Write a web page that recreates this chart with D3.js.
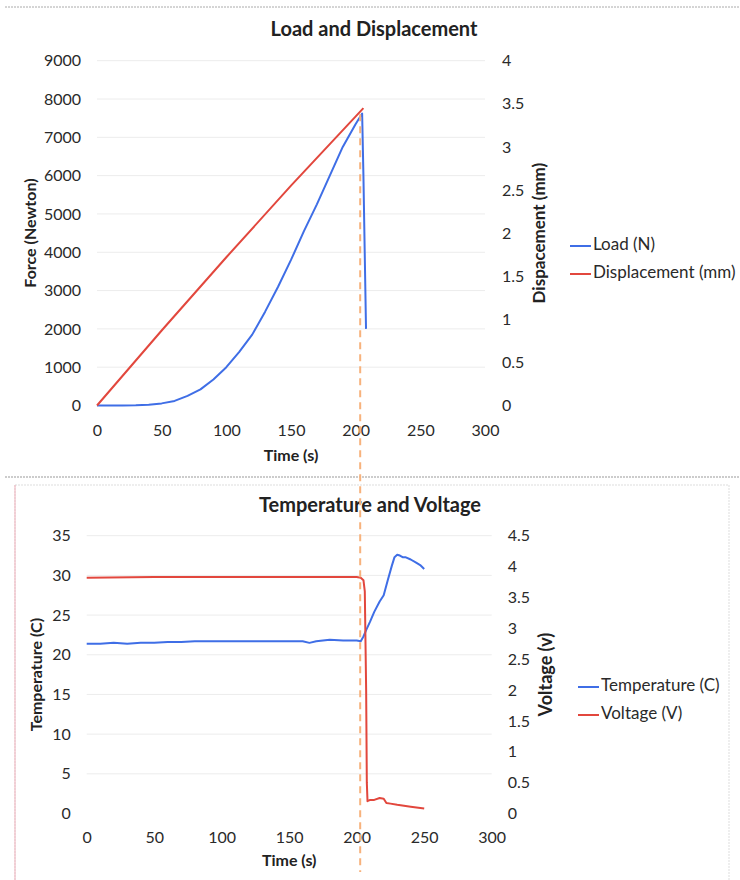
<!DOCTYPE html>
<html><head><meta charset="utf-8">
<script src="https://cdn.jsdelivr.net/npm/d3@7"></script>
<style>
body{margin:0;background:#fff;}
svg{display:block;font-family:Lato,"Open Sans",sans-serif;}
</style></head>
<body><svg id="c" width="740" height="880"></svg>
<script>
// ---- Data: Load and Displacement ----
const loadTime = [0,10,20,30,40,50,60,70,80,90,100,110,120,130,140,150,160,170,180,190,200,205,206,207,208];
const loadN    = [0,0,0,5,20,55,120,250,420,680,1000,1400,1850,2450,3100,3800,4550,5250,6000,6750,7350,7620,6000,4000,2000];
const dispTime = [0,50,100,150,206];
const dispMm   = [0,0.87,1.72,2.55,3.45];
const forceTicks = [0,1000,2000,3000,4000,5000,6000,7000,8000,9000];
const dispTicks  = [0,0.5,1,1.5,2,2.5,3,3.5,4];
const timeTicks  = [0,50,100,150,200,250,300];

// ---- Data: Temperature and Voltage ----
const tvTime = [0,10,20,30,40,50,60,70,80,90,100,110,120,130,140,150,160,165,170,180,190,200,203,205,207,210,213,217,220,223,226,228,230,232,234,236,240,244,247,250];
const tempC  = [21.4,21.4,21.5,21.4,21.5,21.5,21.6,21.6,21.7,21.7,21.7,21.7,21.7,21.7,21.7,21.7,21.7,21.5,21.7,21.9,21.8,21.8,21.7,22.3,23.1,24.2,25.4,26.7,27.5,29.4,31.2,32.3,32.6,32.5,32.3,32.3,32.0,31.6,31.3,30.8];
const voltTime = [0,50,100,150,200,203,205,206,207,207.5,208,210,213,217,220,222,225,230,240,250];
const voltV    = [3.82,3.83,3.83,3.83,3.83,3.82,3.78,3.6,2.0,0.5,0.2,0.22,0.22,0.25,0.24,0.17,0.16,0.14,0.11,0.08];
const tempTicks = [0,5,10,15,20,25,30,35];
const voltTicks = [0,0.5,1,1.5,2,2.5,3,3.5,4,4.5];
const eventTime = 203.5;

const blue = "#3f6ee6", red = "#e2473d", txt = "#2a2a2a";
const svg = d3.select("#c");

// separators and frame
svg.append("line").attr("x1",5).attr("x2",740).attr("y1",7).attr("y2",7)
  .attr("stroke","#aaa").attr("stroke-dasharray","2,1");
svg.append("line").attr("x1",5).attr("x2",740).attr("y1",477).attr("y2",477)
  .attr("stroke","#999").attr("stroke-dasharray","2,1");
svg.append("rect").attr("x",15).attr("y",485).attr("width",714).attr("height",400)
  .attr("fill","none").attr("stroke","#ddd").attr("stroke-dasharray","2,1");
svg.append("line").attr("x1",15).attr("x2",15).attr("y1",485).attr("y2",880).attr("stroke","#f0b0bb");

function chart(o){
  const g = svg.append("g");
  const x = d3.scaleLinear().domain([0,300]).range([o.x0,o.x1]);
  const yl = d3.scaleLinear().domain(o.lDom).range([o.y1,o.y0]);
  const yr = d3.scaleLinear().domain(o.rDom).range([o.y1,o.y0]);
  g.append("g").selectAll("line").data(o.lTicks.slice(1)).join("line")
    .attr("x1",o.x0).attr("x2",o.x1).attr("y1",d=>yl(d)).attr("y2",d=>yl(d))
    .attr("stroke","#ececec");
  const ax = g.append("g").attr("transform",`translate(0,${o.y1})`)
    .call(d3.axisBottom(x).tickValues(timeTicks).tickSize(0).tickPadding(o.xPad));
  const al = g.append("g").attr("transform",`translate(${o.x0},0)`)
    .call(d3.axisLeft(yl).tickValues(o.lTicks).tickSize(0).tickPadding(o.lPad).tickFormat(d=>d));
  const ar = g.append("g").attr("transform",`translate(${o.x1},0)`)
    .call(d3.axisRight(yr).tickValues(o.rTicks).tickSize(0).tickPadding(o.rPad).tickFormat(d=>d));
  [ax,al,ar].forEach(a=>{a.select(".domain").remove();
    a.selectAll("text").attr("font-size",16).attr("fill",txt).attr("font-family","Lato, sans-serif");});
  o.series.forEach(s=>{
    const yS = s.axis==="l"?yl:yr;
    g.append("path").datum(d3.zip(s.t,s.v)).attr("fill","none").attr("stroke",s.color)
      .attr("stroke-width",2).attr("stroke-linejoin","round")
      .attr("d",d3.line().x(d=>x(d[0])).y(d=>yS(d[1])));
  });
  g.append("text").attr("x",o.titleX).attr("y",o.titleY).attr("text-anchor","middle")
    .attr("font-size",20).attr("font-weight","bold").attr("fill","#222").text(o.title);
  g.append("text").attr("x",(o.x0+o.x1)/2).attr("y",o.xTitleY).attr("text-anchor","middle")
    .attr("font-size",16).attr("font-weight","bold").attr("fill","#222").text("Time (s)");
  g.append("text").attr("transform",`translate(${o.lTitleX},${(o.y0+o.y1)/2}) rotate(-90)`)
    .attr("text-anchor","middle").attr("dominant-baseline","middle")
    .attr("font-size",16).attr("font-weight","bold").attr("fill","#222").text(o.lTitle);
  g.append("text").attr("transform",`translate(${o.rTitleX},${(o.y0+o.y1)/2}) rotate(-90)`)
    .attr("text-anchor","middle").attr("dominant-baseline","middle")
    .attr("font-size",o.rSize).attr("font-weight","bold").attr("fill","#222").text(o.rTitle);
  o.series.forEach((s,i)=>{
    const ly = o.legY + i*28;
    g.append("line").attr("x1",o.legX).attr("x2",o.legX+21).attr("y1",ly).attr("y2",ly)
      .attr("stroke",s.color).attr("stroke-width",2);
    g.append("text").attr("x",o.legX+23).attr("y",ly).attr("dominant-baseline","middle")
      .attr("font-size",17).attr("fill",txt).text(s.name);
  });
  return {x,yl,yr};
}

const chartTop = chart({
  x0:97, x1:485, y0:60.7, y1:405.5, lDom:[0,9000], rDom:[0,4],
  lTicks:forceTicks, rTicks:dispTicks, xPad:19, lPad:16, rPad:17,
  title:"Load and Displacement", titleX:374, titleY:36, xTitleY:461,
  lTitle:"Force (Newton)", lTitleX:32, rTitle:"Dispacement (mm)", rTitleX:541, rSize:17,
  legX:570, legY:246,
  series:[{name:"Load (N)",t:loadTime,v:loadN,color:blue,axis:"l"},
          {name:"Displacement (mm)",t:dispTime,v:dispMm,color:red,axis:"r"}]
});
const chartBot = chart({
  x0:86.7, x1:491.7, y0:535.7, y1:813.5, lDom:[0,35], rDom:[0,4.5],
  lTicks:tempTicks, rTicks:voltTicks, xPad:18, lPad:16, rPad:16,
  title:"Temperature and Voltage", titleX:370, titleY:512, xTitleY:866,
  lTitle:"Temperature (C)", lTitleX:38, rTitle:"Voltage (v)", rTitleX:547, rSize:18,
  legX:578, legY:687,
  series:[{name:"Temperature (C)",t:tvTime,v:tempC,color:blue,axis:"l"},
          {name:"Voltage (V)",t:voltTime,v:voltV,color:red,axis:"r"}]
});

const ex = chartTop.x(eventTime);
svg.append("line").attr("x1",ex).attr("x2",ex).attr("y1",chartTop.yl(7600)).attr("y2",872)
  .attr("stroke","#f7b27c").attr("stroke-width",2).attr("stroke-dasharray","7,5");
</script></body></html>
